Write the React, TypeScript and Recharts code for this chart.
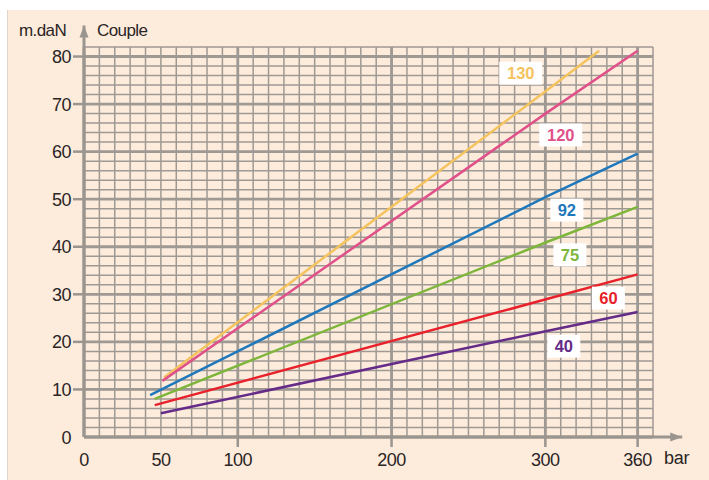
import React from "react";
import { LineChart, Line, XAxis, YAxis, CartesianGrid, ReferenceLine, ReferenceDot } from "recharts";

// couple (m.daN) vs pression (bar), one line per size
const s130 = [{ x: 52, y: 12.5 }, { x: 301, y: 72.9 }, { x: 335, y: 81.2 }];
const s120 = [{ x: 51, y: 11.8 }, { x: 301, y: 68.2 }, { x: 360, y: 81.2 }];
const s92 = [{ x: 43, y: 8.8 }, { x: 108, y: 19.3 }, { x: 301, y: 50.6 }, { x: 360, y: 59.6 }];
const s75 = [{ x: 46, y: 8.0 }, { x: 301, y: 41.0 }, { x: 360, y: 48.4 }];
const s60 = [{ x: 46, y: 6.7 }, { x: 301, y: 29.0 }, { x: 360, y: 34.2 }];
const s40 = [{ x: 50, y: 5.0 }, { x: 301, y: 22.3 }, { x: 360, y: 26.3 }];

const xTicks = [0, 50, 100, 200, 300, 360];
const xTickMarks = [100, 200, 300, 360];
const yTicks = [0, 10, 20, 30, 40, 50, 60, 70, 80];

const series = [
  { name: "130", data: s130, color: "#f5c35e", lx: 284, ly: 76.5 },
  { name: "120", data: s120, color: "#e0518a", lx: 310, ly: 63.5 },
  { name: "92", data: s92, color: "#1f78bb", lx: 314, ly: 47.7 },
  { name: "75", data: s75, color: "#7db63a", lx: 316, ly: 38.3 },
  { name: "60", data: s60, color: "#e8212b", lx: 341, ly: 29.2 },
  { name: "40", data: s40, color: "#652b88", lx: 312, ly: 19.1 },
];

const minorX = Array.from({ length: 38 }, (_, i) => i * 10);
const minorY = Array.from({ length: 42 }, (_, i) => i * 2);
const majorX = [100, 200, 300, 360];
const majorY = [10, 20, 30, 40, 50, 60, 70, 80];

const GRID = "#9f9994";
const AXIS = "#9b9590";
const TXT = "#2b2525";
const FONT = "'Liberation Sans', Arial, sans-serif";

function XTick(props: any) {
  const { x, y, payload } = props;
  const v = payload.value;
  return (
    <g>
      {xTickMarks.includes(v) && <line x1={x} y1={y} x2={x} y2={y + 10} stroke={AXIS} strokeWidth={2.5} />}
      <text x={x} y={y + 29} textAnchor="middle" fill={TXT} fontSize={18} letterSpacing={-0.5} fontFamily={FONT}>
        {v}
      </text>
    </g>
  );
}

function YTick(props: any) {
  const { x, y, payload } = props;
  const v = payload.value;
  return (
    <g>
      {v !== 0 && <line x1={x - 11} y1={y} x2={x} y2={y} stroke={AXIS} strokeWidth={2.5} />}
      <text x={x - 13} y={y + 6.5} textAnchor="end" fill={TXT} fontSize={18} letterSpacing={-0.5} fontFamily={FONT}>
        {v}
      </text>
    </g>
  );
}

function Arrow(props: any) {
  const { x1, y1, x2, y2 } = props;
  const horiz = Math.abs(y2 - y1) < 1;
  const head = horiz
    ? `${x2},${y2} ${x2 - 12},${y2 - 4.5} ${x2 - 12},${y2 + 4.5}`
    : `${x2},${y2} ${x2 - 4.5},${y2 + 12} ${x2 + 4.5},${y2 + 12}`;
  return (
    <g>
      <line x1={x1} y1={y1} x2={x2} y2={y2} stroke={AXIS} strokeWidth={3} />
      <polygon points={head} fill={AXIS} />
    </g>
  );
}

function makeLabel(text: string, color: string) {
  return (props: any) => {
    const { cx, cy } = props;
    const w = text.length * 10 + 13;
    return (
      <g>
        <rect x={cx - w / 2} y={cy - 11.5} width={w} height={23} fill="#ffffff" />
        <text x={cx} y={cy + 6} textAnchor="middle" fill={color} fontSize={16.5} fontWeight="bold" fontFamily={FONT}>
          {text}
        </text>
      </g>
    );
  };
}

export default function App() {
  return (
    <div style={{ position: "absolute", left: 0, top: 0, width: 709, height: 480, background: "#ffffff", fontFamily: FONT }}>
      <div style={{ position: "absolute", left: 7, top: 10, width: 702, height: 470, background: "#fdecdc", borderLeft: "1px solid #e2d6cb" }} />
      <div style={{ position: "absolute", left: 0, top: 0 }}>
        <LineChart width={709} height={480} margin={{ top: 47, right: 56, bottom: 13, left: 24 }}>
          <CartesianGrid horizontalValues={minorY} verticalValues={minorX} stroke={GRID} strokeWidth={1.5} />
          <CartesianGrid horizontalValues={majorY} verticalValues={majorX} stroke={GRID} strokeWidth={2.8} />
          <XAxis
            dataKey="x"
            type="number"
            domain={[0, 370]}
            ticks={xTicks}
            interval={0}
            axisLine={{ stroke: AXIS, strokeWidth: 3 }}
            tickLine={false}
            tickSize={0}
            tickMargin={0}
            height={30}
            tick={<XTick />}
          />
          <YAxis
            type="number"
            domain={[0, 82]}
            ticks={yTicks}
            interval={0}
            axisLine={{ stroke: AXIS, strokeWidth: 3 }}
            tickLine={false}
            tickSize={0}
            tickMargin={0}
            width={60}
            tick={<YTick />}
          />
          <ReferenceLine segment={[{ x: 0, y: 0 }, { x: 389, y: 0 }]} ifOverflow="visible" shape={<Arrow />} />
          <ReferenceLine segment={[{ x: 0, y: 0 }, { x: 0, y: 86.5 }]} ifOverflow="visible" shape={<Arrow />} />
          {series.map((s) => (
            <Line
              key={s.name}
              data={s.data}
              dataKey="y"
              type="linear"
              stroke={s.color}
              strokeWidth={2.5}
              dot={false}
              activeDot={false}
              isAnimationActive={false}
            />
          ))}
          {series.map((s) => (
            <ReferenceDot key={"l" + s.name} x={s.lx} y={s.ly} r={0} ifOverflow="visible" shape={makeLabel(s.name, s.color)} />
          ))}
        </LineChart>
      </div>
      <div style={{ position: "absolute", left: 19, top: 21, fontSize: 17, color: TXT, letterSpacing: -0.6 }}>m.daN</div>
      <div style={{ position: "absolute", left: 97, top: 21, fontSize: 17, color: TXT, letterSpacing: -0.6 }}>Couple</div>
      <div style={{ position: "absolute", left: 664, top: 448, fontSize: 18, color: TXT, letterSpacing: -0.3 }}>bar</div>
    </div>
  );
}
